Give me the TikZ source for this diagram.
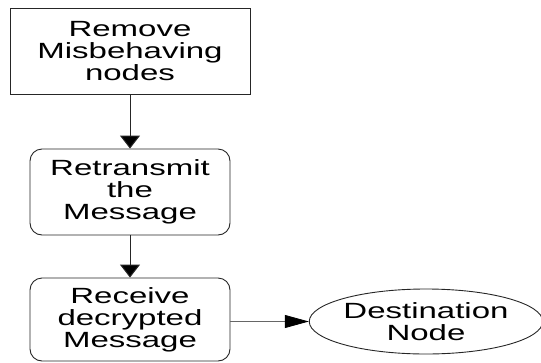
\documentclass[tikz,border=0pt]{standalone}
\usepackage{fontspec}
\usetikzlibrary{shapes.geometric,arrows.meta}
\newfontfamily\widesans[FakeStretch=1.5]{Liberation Sans}
\tikzset{
  lbl/.style={align=center, font={\widesans\fontsize{22}{22}\selectfont}, text=black, inner sep=0pt},
  plainbox/.style={lbl, draw=black!85, line width=0.9pt, rectangle},
  roundbox/.style={plainbox, rounded corners=12pt},
  ovalbox/.style={lbl, draw=black!85, line width=0.9pt, ellipse},
  downflow/.style={draw=black!85, line width=1pt, -{Triangle[length=13pt,width=20pt,fill=black]}},
  sideflow/.style={draw=black!60, line width=0.8pt, -{Triangle[length=24pt,width=13pt,fill=black,color=black]}},
}
\begin{document}
\begin{tikzpicture}[x=1pt,y=-1pt]
  \useasboundingbox (0,0) rectangle (541,362);
  \node[plainbox, minimum width=240pt, minimum height=86pt] (remove) at (130,51)
    {Remove\\Misbehaving\\nodes};
  \node[roundbox, minimum width=200pt, minimum height=86pt] (retx) at (130,192)
    {Retransmit\\the\\Message};
  \node[roundbox, minimum width=200pt, minimum height=83pt] (recv) at (130,319.5)
    {Receive\\decrypted\\Message};
  \node[ovalbox, minimum width=232pt, minimum height=65pt] (dest) at (426,321.5)
    {Destination\\Node};
  \draw[downflow] (remove) -- (retx);
  \draw[downflow] (retx) -- (recv);
  \draw[sideflow] (recv.east |- dest.west) -- (dest.west);
\end{tikzpicture}
\end{document}
